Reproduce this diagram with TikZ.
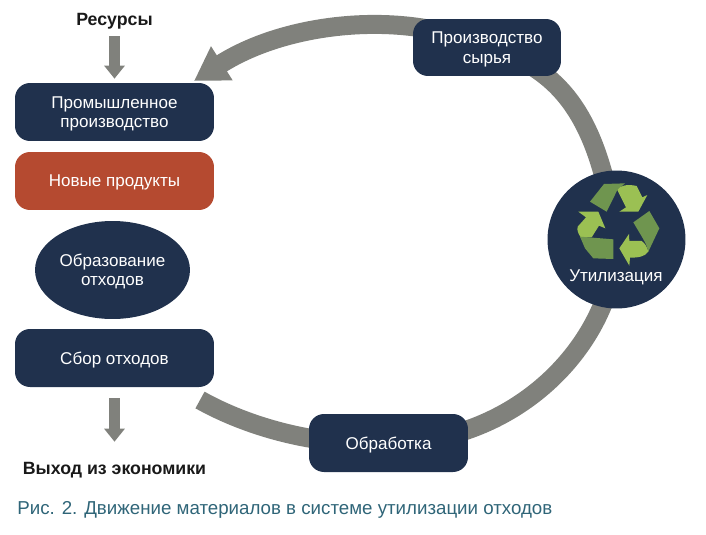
\documentclass[tikz,border=0pt]{standalone}
\usepackage{fontspec}
\setmainfont{Liberation Sans}
\usetikzlibrary{arrows.meta,backgrounds,shapes.geometric}
\definecolor{navy}{HTML}{20314D}
\definecolor{brick}{HTML}{B54A30}
\definecolor{band}{HTML}{80817C}
\definecolor{leaflight}{HTML}{9BC053}
\definecolor{leafdark}{HTML}{6F954F}
\definecolor{caption}{HTML}{2F6578}
\tikzset{
  stagebox/.style={fill=navy,text=white,rounded corners=0.3cm,minimum width=3.98cm,minimum height=1.16cm,align=center,text depth=0pt,font=\fontsize{9.7}{11}\selectfont},
  ring/.style={draw=band,line width=0.38cm},
  flow/.style={draw=band,line width=0.21cm,-{Triangle[length=0.26cm,width=0.4cm]}},
  outtext/.style={text depth=0pt,font=\fontsize{10.1}{12}\selectfont\bfseries,text=black!90}
}
\begin{document}
\begin{tikzpicture}[x=0.02cm,y=-0.02cm]
\useasboundingbox (0,0) rectangle (706,534);
\node[outtext] (res) at (114.5,19) {Ресурсы};
\node[stagebox] (indust) at (114.5,112) {Промышленное\\производство};
\node[stagebox,fill=brick] (newprod) at (114.5,181) {Новые продукты};
\node[stagebox,shape=ellipse,minimum width=3.1cm,minimum height=1.96cm,inner sep=0pt] (waste) at (112.5,270) {Образование\\отходов};
\node[stagebox] (collect) at (114.5,358) {Сбор отходов};
\node[outtext] (exit) at (114.5,468) {Выход из экономики};
\node[stagebox,minimum width=2.96cm,minimum height=1.14cm] (raw) at (487,47.5) {Производство\\сырья};
\node[stagebox,minimum width=3.18cm,minimum height=1.16cm] (proc) at (388.5,443) {Обработка};
\node[circle,fill=navy,minimum size=2.76cm,inner sep=0pt] (util) at (616.5,239.5) {};
\node[text depth=0pt,font=\fontsize{9.7}{11}\selectfont,text=white] (utiltext) at (616,276) {Утилизация};
\coordinate (tip) at (194,81);
\coordinate (ringend) at (200,400);
\node[anchor=west,inner sep=0pt,text depth=0pt,font=\fontsize{10.65}{12}\selectfont,text=caption] (fig) at (17,508) {Рис. 2. Движение материалов в системе утилизации отходов};
\begin{scope}[on background layer]
\draw[ring] (raw.center) .. controls (570,70) and (600,130) .. (util.center);
\draw[ring] (util.center) .. controls (615,340) and (520,443) .. (proc.center);
\draw[ring] (proc.center) .. controls (320,447) and (250,428) .. (ringend);
\draw[ring,-{Triangle[length=0.66cm,width=0.76cm]}] (raw.center) .. controls (410,10) and (290,20) .. (tip);
\end{scope}
\draw[flow,shorten <=0.1cm,shorten >=0.08cm] (res.south) -- (indust.north);
\draw[flow,shorten <=0.22cm,shorten >=0.28cm] (collect.south) -- (exit.north);
\begin{scope}[shift={(530,160)},x=0.0066667cm,y=-0.0066667cm]
\fill[leafdark] (180,125) -- (222,72) -- (285,70) -- (262,90) -- (230,155) -- cycle;
\fill[leaflight] (262,90) .. controls (270,75) and (295,72) .. (320,78) -- (337,112) -- (352,105) -- (325,155) -- (268,155) -- (288,142) -- cycle;
\fill[leafdark] (310,187) -- (358,153) -- (388,205) -- (355,275) .. controls (350,250) and (335,230) .. (310,187) -- cycle;
\fill[leaflight] (355,275) .. controls (345,290) and (325,293) .. (300,293) -- (298,317) -- (268,265) -- (297,222) -- (298,243) -- (335,243) .. controls (345,250) and (352,262) .. (355,275) -- cycle;
\fill[leaflight] (145,155) -- (205,155) -- (226,205) -- (207,197) -- (185,232) -- (152,232) .. controls (145,220) and (140,212) .. (143,200) -- (168,172) -- cycle;
\fill[leafdark] (150,230) -- (250,238) -- (250,297) -- (190,295) -- (165,265) -- cycle;
\end{scope}
\end{tikzpicture}
\end{document}
